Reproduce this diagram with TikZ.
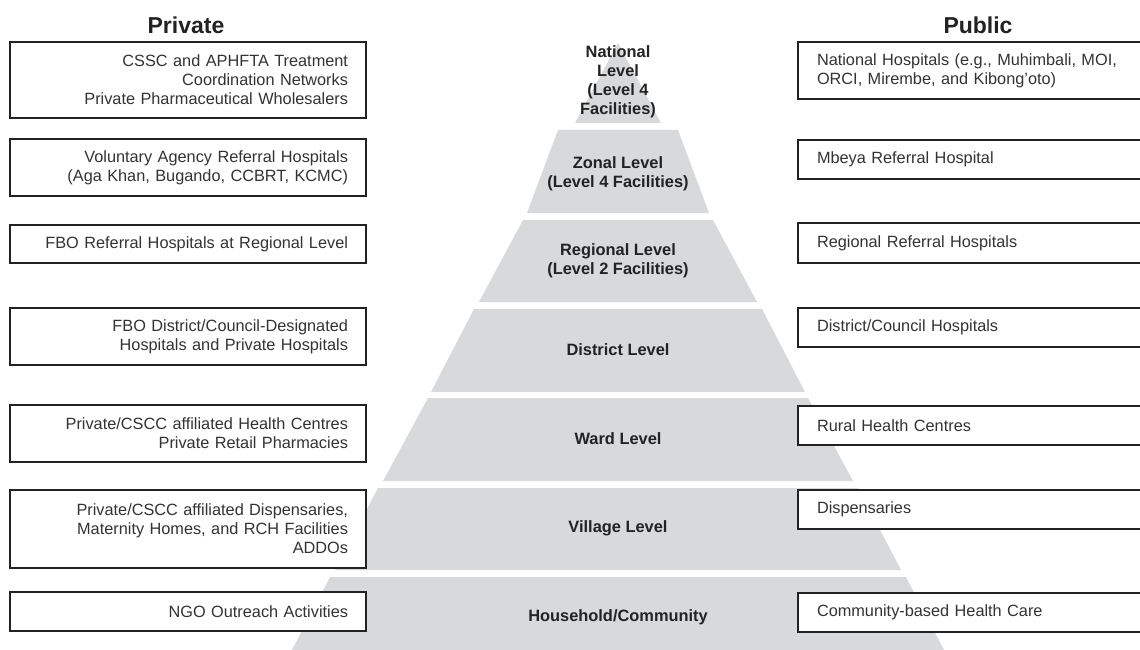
\documentclass[tikz,border=0pt]{standalone}
\usepackage{fontspec}
\setmainfont{Liberation Sans}
\definecolor{tiergray}{RGB}{216,217,219}
\definecolor{boxline}{RGB}{34,34,34}
\definecolor{boxtext}{RGB}{51,51,51}
\definecolor{labtext}{RGB}{34,34,34}
\newcommand{\pyrtier}[4]{\fill[tiergray] (618-#3,#1) -- (618+#3,#1) -- (618+#4,#2) -- (618-#4,#2) -- cycle;}
\begin{document}
\begin{tikzpicture}[x=1pt,y=-1pt,
  lbox/.style={draw=boxline, line width=1.8pt, fill=white, minimum width=356pt, inner xsep=0pt, inner ysep=0pt,
    text width=320pt, align=right, text=boxtext, font=\fontsize{16.3}{19}\selectfont},
  rbox/.style={draw=boxline, line width=1.8pt, fill=white, minimum width=352pt, inner xsep=0pt, inner ysep=0pt,
    text width=314pt, align=left, text=boxtext, font=\fontsize{16.3}{19}\selectfont},
  tierlab/.style={align=center, text=labtext, inner sep=0pt, font=\bfseries\fontsize{16.4}{19}\selectfont},
  head/.style={text=labtext, inner sep=0pt, font=\bfseries\fontsize{23}{26}\selectfont}]
\useasboundingbox (0,0) rectangle (1140,650);
\fill[white] (0,0) rectangle (1140,650);
% pyramid tiers
\pyrtier{43}{123}{0}{43}
\pyrtier{130}{213}{60}{91}
\pyrtier{220}{302}{95}{139}
\pyrtier{309}{392}{144}{187}
\pyrtier{398}{481}{190}{235}
\pyrtier{488}{570}{240}{283}
\pyrtier{577}{650}{288}{326}
% tier labels
\node[tierlab] (tnat) at (618,82) {National\\Level\\(Level 4\\Facilities)};
\node[tierlab] (tzon) at (618,174) {Zonal Level\\(Level 4 Facilities)};
\node[tierlab] (treg) at (618,261) {Regional Level\\(Level 2 Facilities)};
\node[tierlab] (tdis) at (618,350) {District Level};
\node[tierlab] (tward) at (618,439) {Ward Level};
\node[tierlab] (tvil) at (618,528) {Village Level};
\node[tierlab] (thh) at (618,617) {Household/Community};
% headings
\node[head] (hpriv) at (186,25) {Private};
\node[head] (hpub) at (978,25) {Public};
% private boxes
\node[lbox, minimum height=76pt] (p1) at (188,80) {CSSC and APHFTA Treatment\\Coordination Networks\\Private Pharmaceutical Wholesalers};
\node[lbox, minimum height=57pt] (p2) at (188,167.5) {Voluntary Agency Referral Hospitals\\(Aga Khan, Bugando, CCBRT, KCMC)};
\node[lbox, minimum height=38pt] (p3) at (188,244) {FBO Referral Hospitals at Regional Level};
\node[lbox, minimum height=57pt] (p4) at (188,336.5) {FBO District/Council-Designated\\Hospitals and Private Hospitals};
\node[lbox, minimum height=57pt] (p5) at (188,433.5) {Private/CSCC affiliated Health Centres\\Private Retail Pharmacies};
\node[lbox, minimum height=78pt] (p6) at (188,529) {Private/CSCC affiliated Dispensaries,\\Maternity Homes, and RCH Facilities\\ADDOs};
\node[lbox, minimum height=39pt] (p7) at (188,611.5) {NGO Outreach Activities};
% public boxes
\node[rbox, minimum height=57pt] (q1) at (974,70.5) {National Hospitals (e.g., Muhimbali, MOI,\\ORCI, Mirembe, and Kibong'oto)};
\node[rbox, minimum height=39pt] (q2) at (974,159.5) {Mbeya Referral Hospital};
\node[rbox, minimum height=40pt] (q3) at (974,243) {Regional Referral Hospitals};
\node[rbox, minimum height=39pt] (q4) at (974,327.5) {District/Council Hospitals};
\node[rbox, minimum height=39pt] (q5) at (974,425.5) {Rural Health Centres};
\node[rbox, minimum height=39pt] (q6) at (974,509.5) {Dispensaries};
\node[rbox, minimum height=39pt] (q7) at (974,612.5) {Community-based Health Care};
\end{tikzpicture}
\end{document}
